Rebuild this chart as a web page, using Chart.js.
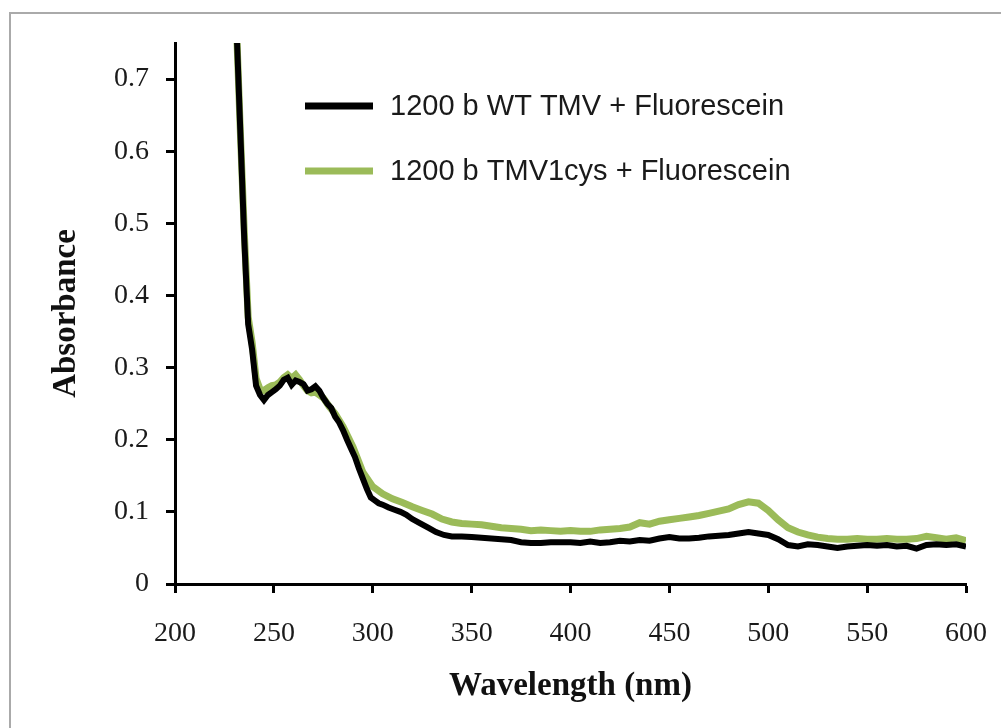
<!DOCTYPE html>
<html lang="en">
<head>
    <meta charset="UTF-8">
    <title>Absorbance spectra - TMV + Fluorescein</title>
    <script src="https://cdn.jsdelivr.net/npm/chart.js"></script>
    <style>
        html, body { margin: 0; padding: 0; background: #fff; overflow: hidden; }
        .frame {
            position: absolute; left: 9px; top: 12px;
            width: 1100px; height: 800px;
            border: 2px solid #aaaaaa;
        }
        #spectrum { position: absolute; left: 0; top: 0; }
    </style>
</head>
<body>
    <div class="frame"></div>
    <canvas id="spectrum" width="1001" height="728"></canvas>

    <script>
        // wavelength (nm) and absorbance
        const wtWavelength = [229, 231, 233, 235, 237, 239, 241, 243, 245, 247, 249, 251, 253, 255, 257, 259, 261, 263, 265, 267, 269, 271, 273, 275, 277, 279, 281, 283, 285, 287, 289, 291, 293, 295, 297, 299, 301, 303, 305, 308, 311, 314, 317, 320, 324, 328, 332, 336, 340, 345, 350, 355, 360, 365, 370, 375, 380, 385, 390, 395, 400, 405, 410, 415, 420, 425, 430, 435, 440, 445, 450, 455, 460, 465, 470, 475, 480, 485, 490, 495, 500, 505, 510, 515, 520, 525, 530, 535, 540, 545, 550, 555, 560, 565, 570, 575, 580, 585, 590, 595, 600];
        const wtAbsorbance = [0.95, 0.78, 0.63, 0.48, 0.36, 0.325, 0.275, 0.262, 0.255, 0.262, 0.266, 0.270, 0.275, 0.283, 0.286, 0.276, 0.282, 0.280, 0.277, 0.268, 0.270, 0.274, 0.268, 0.258, 0.250, 0.244, 0.232, 0.224, 0.213, 0.200, 0.188, 0.176, 0.160, 0.146, 0.132, 0.120, 0.116, 0.112, 0.110, 0.106, 0.103, 0.100, 0.096, 0.090, 0.084, 0.078, 0.072, 0.068, 0.066, 0.066, 0.065, 0.064, 0.063, 0.062, 0.061, 0.058, 0.057, 0.057, 0.058, 0.058, 0.058, 0.057, 0.059, 0.057, 0.058, 0.060, 0.059, 0.061, 0.060, 0.063, 0.065, 0.063, 0.063, 0.064, 0.066, 0.067, 0.068, 0.070, 0.072, 0.070, 0.068, 0.062, 0.054, 0.052, 0.055, 0.054, 0.052, 0.050, 0.052, 0.053, 0.054, 0.053, 0.054, 0.052, 0.053, 0.049, 0.054, 0.055, 0.054, 0.055, 0.052];

        const cysWavelength = [229, 231, 233, 235, 237, 239, 241, 243, 245, 247, 249, 251, 253, 255, 257, 259, 261, 263, 265, 267, 269, 271, 273, 275, 278, 281, 285, 290, 295, 300, 305, 310, 315, 320, 325, 330, 335, 340, 345, 350, 355, 360, 365, 370, 375, 380, 385, 390, 395, 400, 405, 410, 415, 420, 425, 430, 435, 440, 445, 450, 455, 460, 465, 470, 475, 480, 485, 490, 495, 500, 505, 510, 515, 520, 525, 530, 535, 540, 545, 550, 555, 560, 565, 570, 575, 580, 585, 590, 595, 600];
        const cysAbsorbance = [0.95, 0.78, 0.63, 0.49, 0.37, 0.335, 0.285, 0.270, 0.268, 0.272, 0.275, 0.276, 0.280, 0.286, 0.290, 0.285, 0.290, 0.283, 0.275, 0.268, 0.265, 0.266, 0.262, 0.258, 0.246, 0.236, 0.218, 0.190, 0.155, 0.135, 0.125, 0.118, 0.113, 0.107, 0.102, 0.097, 0.090, 0.086, 0.084, 0.083, 0.082, 0.080, 0.078, 0.077, 0.076, 0.074, 0.075, 0.074, 0.073, 0.074, 0.073, 0.073, 0.075, 0.076, 0.077, 0.079, 0.085, 0.083, 0.087, 0.089, 0.091, 0.093, 0.095, 0.098, 0.101, 0.104, 0.110, 0.114, 0.112, 0.102, 0.089, 0.078, 0.072, 0.068, 0.065, 0.063, 0.062, 0.062, 0.063, 0.062, 0.062, 0.063, 0.062, 0.062, 0.063, 0.066, 0.064, 0.062, 0.064, 0.060];

        const seriesNames = ["1200 b WT TMV + Fluorescein", "1200 b TMV1cys + Fluorescein"];
        const seriesColors = ["#000000", "#9bbb59"];

        const xTicks = [200, 250, 300, 350, 400, 450, 500, 550, 600];
        const yTicks = [0, 0.1, 0.2, 0.3, 0.4, 0.5, 0.6, 0.7];

        const toPoints = (xs, ys) => xs.map((x, i) => ({ x, y: ys[i] }));

        // legend sits inside the plot, drawn by hand like the original
        const insideLegend = {
            id: "insideLegend",
            afterDraw(chart) {
                const ctx = chart.ctx;
                const rows = [106, 171];
                ctx.save();
                seriesNames.forEach((name, i) => {
                    ctx.strokeStyle = seriesColors[i];
                    ctx.lineWidth = 7;
                    ctx.beginPath();
                    ctx.moveTo(305, rows[i]);
                    ctx.lineTo(373, rows[i]);
                    ctx.stroke();
                    ctx.fillStyle = "#1a1a1a";
                    ctx.font = "29px 'Liberation Sans', Arial, sans-serif";
                    ctx.textBaseline = "middle";
                    ctx.fillText(name, 390, rows[i] + 1);
                });
                ctx.restore();
            }
        };

        const serif = "'Liberation Serif', 'Times New Roman', serif";

        new Chart(document.getElementById("spectrum"), {
            type: "line",
            data: {
                datasets: [
                    {
                        label: seriesNames[0],
                        data: toPoints(wtWavelength, wtAbsorbance),
                        borderColor: seriesColors[0],
                        borderWidth: 6,
                        pointRadius: 0,
                        tension: 0
                    },
                    {
                        label: seriesNames[1],
                        data: toPoints(cysWavelength, cysAbsorbance),
                        borderColor: seriesColors[1],
                        borderWidth: 7,
                        pointRadius: 0,
                        tension: 0
                    }
                ]
            },
            options: {
                responsive: false,
                animation: false,
                layout: { padding: { left: 0, right: 35, top: 43, bottom: 0 } },
                plugins: {
                    legend: { display: false },
                    tooltip: { enabled: false }
                },
                scales: {
                    x: {
                        type: "linear",
                        min: 200,
                        max: 600,
                        afterFit: s => { s.height = 144; s.paddingLeft = 0; s.paddingRight = 0; },
                        afterBuildTicks: s => { s.ticks = xTicks.map(v => ({ value: v })); },
                        border: { display: true, color: "#000", width: 3 },
                        grid: { drawOnChartArea: false, drawTicks: true, tickLength: 9, tickWidth: 3, tickColor: "#000" },
                        ticks: { color: "#1a1a1a", padding: 24, maxRotation: 0, font: { family: serif, size: 28 } },
                        title: {
                            display: true,
                            text: "Wavelength (nm)",
                            color: "#111",
                            padding: { top: 0, bottom: 22 },
                            font: { family: serif, size: 33, weight: "bold" }
                        }
                    },
                    y: {
                        min: 0,
                        max: 0.75,
                        afterFit: s => { s.width = 175; s.paddingTop = 0; s.paddingBottom = 0; },
                        afterBuildTicks: s => { s.ticks = yTicks.map(v => ({ value: v })); },
                        border: { display: true, color: "#000", width: 3 },
                        grid: { drawOnChartArea: false, drawTicks: true, tickLength: 9, tickWidth: 3, tickColor: "#000" },
                        ticks: { color: "#1a1a1a", padding: 17, font: { family: serif, size: 28 } },
                        title: {
                            display: true,
                            text: "Absorbance",
                            color: "#111",
                            padding: { top: 47, bottom: 0 },
                            font: { family: serif, size: 33, weight: "bold" }
                        }
                    }
                }
            },
            plugins: [insideLegend]
        });
    </script>
</body>
</html>
